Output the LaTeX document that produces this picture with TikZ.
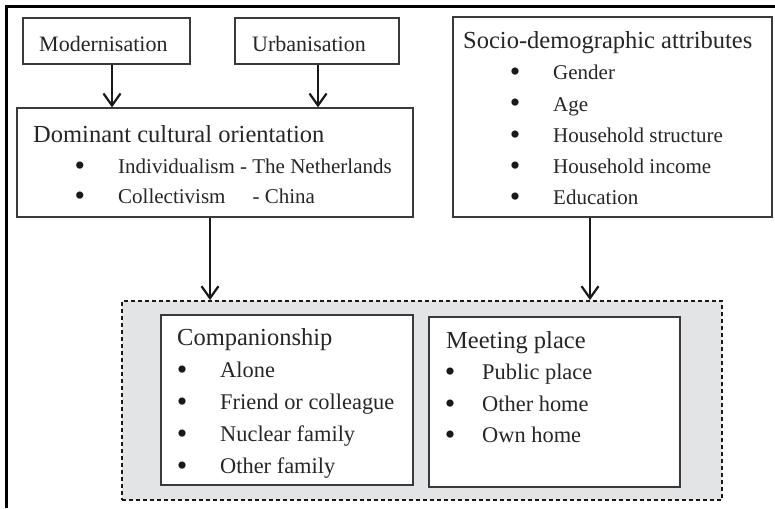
\documentclass[tikz,border=0pt]{standalone}
\usepackage{fontspec}
\setmainfont{Liberation Serif}
\usetikzlibrary{arrows.meta, positioning, calc}

\definecolor{panelgrey}{HTML}{E3E4E6}
\definecolor{inkgrey}{HTML}{3A3A3A}

\tikzset{
  box/.style={draw=inkgrey, line width=1.2pt, fill=white, inner sep=0pt},
  grp/.style={draw=black!90, line width=1.8pt, dash pattern=on 4pt off 3pt, fill=panelgrey, inner sep=0pt},
  head/.style={anchor=base west, inner sep=0pt, text=black!85, font=\fontsize{24.5}{28}\selectfont},
  item/.style={anchor=base west, inner sep=0pt, text=black!85, font=\fontsize{21}{26}\selectfont},
  bigitem/.style={item, font=\fontsize{22.4}{26}\selectfont},
  dot/.style={anchor=base, inner sep=0pt, text=black!90, font=\fontsize{30}{30}\selectfont},
  arr/.style={line width=2.4pt, black!90, -{Straight Barb[length=12pt,width=17pt,line width=2.2pt]}}
}

\begin{document}
\begin{tikzpicture}[x=1pt, y=-1pt]
        \useasboundingbox (0,0) rectangle (775,508);

        % Outer frame (top and left only)
        \draw[line width=3pt] (775,6.5) -- (6.5,6.5) -- (6.5,508);

        % Drivers
        \node[box, minimum width=167, minimum height=46] (mod) at (106.5,41) {};
        \node[item, font=\fontsize{22}{26}\selectfont] (modt) at (39,52) {Modernisation};

        \node[box, minimum width=164, minimum height=46] (urb) at (317,41) {};
        \node[item, font=\fontsize{22}{26}\selectfont] (urbt) at (252,52) {Urbanisation};

        % Cultural orientation
        \node[box, minimum width=396, minimum height=109] (dom) at (215,162.5) {};
        \node[head] (domt) at (33,142) {Dominant cultural orientation};
        \node[dot] (domb1) at (80,175) {\textbullet};
        \node[item] (domi1) at (118,173) {Individualism - The Netherlands};
        \node[dot] (domb2) at (80,205) {\textbullet};
        \node[item] (domi2) at (118,203) {Collectivism\hspace{27pt}- China};

        % Socio-demographic attributes
        \node[box, minimum width=319, minimum height=200] (soc) at (612.5,117) {};
        \node[head] (soct) at (463,49) {Socio-demographic attributes};
        \foreach \lbl [count=\i] in {Gender, Age, Household structure, Household income, Education} {
            \node[dot] (socb\i) at (515,51+31*\i) {\textbullet};
            \node[item] (soci\i) at (553,49+31*\i) {\lbl};
        }

        % Outcome panel
        \node[grp, minimum width=600, minimum height=199] (out) at (422,400.5) {};

        \node[box, minimum width=252, minimum height=170] (comp) at (287,400) {};
        \node[head] (compt) at (177,345) {Companionship};
        \foreach \lbl [count=\i] in {Alone, Friend or colleague, Nuclear family, Other family} {
            \node[dot] (compb\i) at (182,347+32*\i) {\textbullet};
            \node[bigitem] (compi\i) at (220,345+32*\i) {\lbl};
        }

        \node[box, minimum width=251, minimum height=170] (meet) at (554.5,402) {};
        \node[head] (meett) at (446,348) {Meeting place};
        \foreach \lbl [count=\i] in {Public place, Other home, Own home} {
            \node[dot] (meetb\i) at (450,350+31.5*\i) {\textbullet};
            \node[bigitem] (meeti\i) at (482,348+31.5*\i) {\lbl};
        }

        % Arrows
        \draw[arr] ([xshift=5.5pt]mod.south) -- ([xshift=5.5pt]mod.south |- dom.north);
        \draw[arr] ([xshift=1pt]urb.south) -- ([xshift=1pt]urb.south |- dom.north);
        \draw[arr] ([xshift=-5pt]dom.south) -- ([xshift=-5pt]dom.south |- out.north);
        \draw[arr] ([xshift=-22.5pt]soc.south) -- ([xshift=-22.5pt]soc.south |- out.north);
    \end{tikzpicture}
\end{document}
